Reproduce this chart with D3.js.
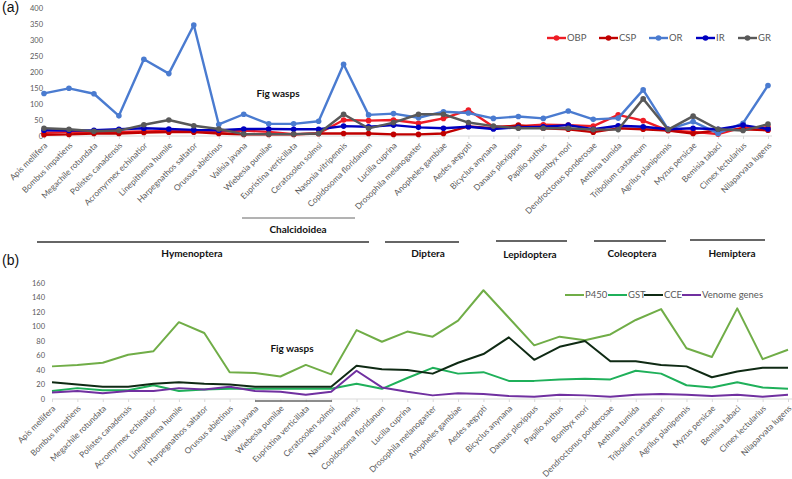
<!DOCTYPE html>
<html><head><meta charset="utf-8">
<script src="https://cdn.jsdelivr.net/npm/d3@7"></script>
<style>
body{margin:0;background:#fff;}
svg{display:block;font-family:Lato,"Open Sans",sans-serif;}
</style></head>
<body><svg id="c" width="792" height="479"></svg>
<script>
const species = ["Apis mellifera","Bombus impatiens","Megachile rotundata","Polistes canadensis","Acromyrmex echinatior","Linepithema humile","Harpegnathos saltator","Orussus abietinus","Valisia javana","Wiebesia pumilae","Eupristina verticillata","Ceratosolen solmsi","Nasonia vitripennis","Copidosoma floridanum","Lucilia cuprina","Drosophila melanogaster","Anopheles gambiae","Aedes aegypti","Bicyclus anynana","Danaus plexippus","Papilio xuthus","Bombyx mori","Dendroctonus ponderosae","Aethina tumida","Tribolium castaneum","Agrilus planipennis","Myzus persicae","Bemisia tabaci","Cimex lectularius","Nilaparvata lugens"];

// Panel (a) chemoreceptor gene counts
const OBP = [10,12,12,13,14,16,16,13,17,13,6,8,50,48,50,40,55,81,29,31,35,34,31,66,48,17,13,6,27,27];
const CSP = [4,5,8,8,11,12,12,8,5,5,5,8,8,8,5,5,8,30,24,34,24,21,12,24,21,17,8,18,21,18];
const OR  = [133,149,132,63,240,195,347,36,68,38,38,46,224,66,70,57,76,72,55,61,55,78,52,56,144,21,45,8,40,158];
const IR  = [18,17,18,21,24,22,19,18,22,22,21,21,31,29,34,27,24,29,22,27,29,34,21,32,29,21,24,21,34,22];
const GR  = [24,21,15,17,35,50,32,22,6,6,6,8,68,24,42,68,68,42,31,24,24,24,20,20,116,20,62,21,17,37];
const ticksA = [0,50,100,150,200,250,300,350,400];

// Panel (b) detoxification / venom gene counts
const P450   = [45,47,50,61,66,106,91,37,36,31,47,34,95,79,93,86,108,150,112,74,86,81,89,109,124,70,58,125,55,68];
const GST    = [11,15,12,12,19,11,13,14,14,14,14,14,21,14,29,43,35,37,25,25,27,28,27,39,35,19,16,23,16,14];
const CCE    = [23,20,17,17,21,23,21,20,17,17,17,17,46,41,40,35,50,62,85,54,72,80,52,52,47,45,30,38,43,43];
const Venome = [9,11,8,11,11,15,13,17,11,10,6,10,39,16,10,5,8,7,4,3,6,5,3,6,7,6,4,6,3,6];
const ticksB = [0,20,40,60,80,100,120,140,160];

const seriesA = [
  {name:"OBP", values:OBP, color:"#ee1c25"},
  {name:"CSP", values:CSP, color:"#c00000"},
  {name:"OR",  values:OR,  color:"#4a7bd0"},
  {name:"IR",  values:IR,  color:"#0000c0"},
  {name:"GR",  values:GR,  color:"#595959"}
];
const seriesB = [
  {name:"P450", values:P450, color:"#70ad47"},
  {name:"GST", values:GST, color:"#1fb05a"},
  {name:"CCE", values:CCE, color:"#0f2a14"},
  {name:"Venome genes", values:Venome, color:"#7030a0"}
];

const svg = d3.select("#c");
const txtGray = "#595959";

function panel(cfg){
  const g = svg.append("g");
  const x = d3.scalePoint().domain(species).range(cfg.xr);
  const y = d3.scaleLinear().domain(cfg.yd).range(cfg.yr);
  // y tick labels
  g.append("g").selectAll("text").data(cfg.ticks).join("text")
    .attr("x", cfg.ylx).attr("y", d=>y(d)).attr("dy","0.35em")
    .attr("text-anchor","end").attr("font-size",7.5).attr("fill",txtGray).text(d=>d);
  // x axis
  const ax = g.append("g").attr("transform",`translate(0,${cfg.yr[0]})`)
    .call(d3.axisBottom(x).tickSize(3).tickFormat(""));
  ax.selectAll("path,line").attr("stroke","#d9d9d9");
  ax.select("path").attr("d",`M${cfg.xr[0]},0H${cfg.xr[1]+4}`);
  // category labels
  g.append("g").selectAll("text").data(species).join("text")
    .attr("transform",d=>`translate(${x(d)+cfg.lx},${cfg.yr[0]+cfg.ly}) rotate(-45)`)
    .attr("text-anchor","end").attr("font-size",8.3).attr("fill",txtGray).text(d=>d);
  const line = d3.line().x((d,i)=>x(species[i])).y(d=>y(d));
  cfg.series.forEach(s=>{
    g.append("path").attr("d",line(s.values)).attr("fill","none")
      .attr("stroke",s.color).attr("stroke-width",cfg.sw).attr("stroke-linejoin","round");
    if(cfg.markers){
      g.append("g").selectAll("circle").data(s.values).join("circle")
        .attr("cx",(d,i)=>x(species[i])).attr("cy",d=>y(d)).attr("r",2.8).attr("fill",s.color);
    }
  });
  // legend
  const lg = g.append("g");
  cfg.series.forEach((s,i)=>{
    const lx = cfg.legX[i];
    lg.append("line").attr("x1",lx).attr("x2",lx+19).attr("y1",cfg.legY).attr("y2",cfg.legY)
      .attr("stroke",s.color).attr("stroke-width",cfg.sw);
    if(cfg.markers) lg.append("circle").attr("cx",lx+9.5).attr("cy",cfg.legY).attr("r",2.8).attr("fill",s.color);
    lg.append("text").attr("x",lx+20).attr("y",cfg.legY).attr("dy","0.35em")
      .attr("font-size",9.5).attr("fill",txtGray).text(s.name);
  });
  return {x,y};
}

panel({xr:[44,768], yd:[0,400], yr:[136,8], ticks:ticksA, ylx:43, lx:4, ly:10,
  series:seriesA, sw:2.4, markers:true, legX:[547,599,649,696,738], legY:38});
panel({xr:[52,788], yd:[0,160], yr:[399,283], ticks:ticksB, ylx:45, lx:4, ly:10,
  series:seriesB, sw:2, markers:false, legX:[565,608,644,682], legY:295});

// Annotations
const ann = svg.append("g").attr("font-weight","bold").attr("fill","#111");
ann.append("text").attr("x",2).attr("y",12).attr("font-size",14).attr("font-weight","normal")
  .attr("font-family","Liberation Sans, Arial, sans-serif").text("(a)");
ann.append("text").attr("x",2).attr("y",265).attr("font-size",14).attr("font-weight","normal")
  .attr("font-family","Liberation Sans, Arial, sans-serif").text("(b)");
ann.append("text").attr("x",278).attr("y",97).attr("text-anchor","middle").attr("font-size",10).text("Fig wasps");
ann.append("text").attr("x",292).attr("y",352).attr("text-anchor","middle").attr("font-size",10).text("Fig wasps");

const groups = [
  {name:"Chalcidoidea", x1:242, x2:355, ly:218, tx:298, ty:233, c:"#666", w:1},
  {name:"Hymenoptera", x1:37, x2:369, ly:242, tx:192, ty:257, c:"#333", w:1.6},
  {name:"Diptera", x1:385, x2:459, ly:242, tx:428, ty:257, c:"#333", w:1.6},
  {name:"Lepidoptera", x1:496, x2:567, ly:241, tx:530, ty:258, c:"#333", w:1.6},
  {name:"Coleoptera", x1:594, x2:666, ly:241, tx:632, ty:257, c:"#333", w:1.6},
  {name:"Hemiptera", x1:690, x2:765, ly:240, tx:732, ty:257, c:"#333", w:1.6}
];
groups.forEach(gr=>{
  ann.append("line").attr("x1",gr.x1).attr("x2",gr.x2).attr("y1",gr.ly).attr("y2",gr.ly)
    .attr("stroke",gr.c).attr("stroke-width",gr.w);
  ann.append("text").attr("x",gr.tx).attr("y",gr.ty).attr("text-anchor","middle").attr("font-size",10).text(gr.name);
});
ann.append("line").attr("x1",255).attr("x2",332).attr("y1",401).attr("y2",401)
  .attr("stroke","#666").attr("stroke-width",1.5);
</script></body></html>
